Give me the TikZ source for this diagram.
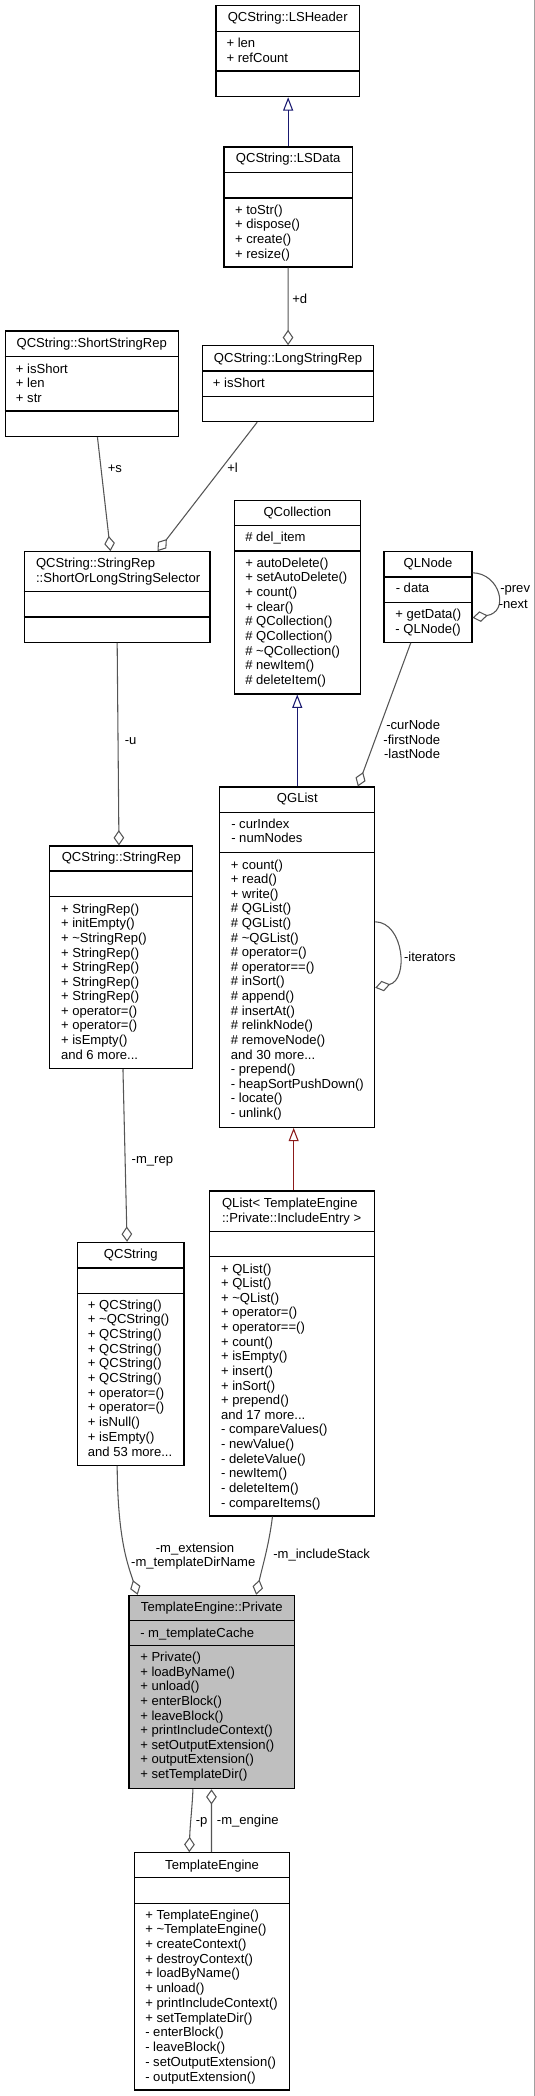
\documentclass[tikz,border=0pt]{standalone}
\usepackage{fontspec}
\setmainfont{Liberation Sans}
\usetikzlibrary{arrows.meta,fit,calc}
\definecolor{edgegrey}{HTML}{555555}
\definecolor{navyblue}{HTML}{191970}
\definecolor{fbrick}{HTML}{8B1A1A}
\definecolor{privfill}{HTML}{BFBFBF}
\definecolor{rborder}{HTML}{A0A0A0}
\tikzset{
  box/.style={draw=black, line width=0.8pt, inner sep=0pt},
  txt/.style={inner sep=0pt, font=\fontsize{9.8}{11}\selectfont},
  agg/.style={draw=edgegrey, line width=0.8pt, -{Diamond[open,length=11.5pt,width=8pt]}},
  inh/.style={line width=0.8pt, -{Triangle[open,length=10pt,width=7.5pt]}},
  lbl/.style={txt, anchor=base west},
}
\newcommand\umldots{...}
\newcommand\umldiv[2]{\draw[line width=0.8pt] (#1.west |- 0,#2) -- (#1.east |- 0,#2);}
\newcommand\umlmembers[5]{\foreach [count=\ii from 0] \mtext in {#5} {\node[txt,anchor=base west] (#1-\ii) at (#2,#3+4.3+\ii*#4) {\mtext};}}
\newcommand\umltitle[4]{\node[txt,anchor=base] (#1-title) at (#2,#3+4.3) {#4};}
\begin{document}
\begin{tikzpicture}[x=0.75pt,y=-0.75pt]
\useasboundingbox (0,0) rectangle (535,2096);
\draw[rborder, line width=1pt] (534.3,0) -- (534.3,2096);

% ---------- LSHeader
\node[box, fit={(216,5.7)(359.4,96.7)}] (lsheader) {};
\umldiv{lsheader}{31.7}\umldiv{lsheader}{71}
\umltitle{lsheader}{287.7}{17.3}{QCString::LSHeader}
\umlmembers{lsheader-a}{226.3}{42.7}{15}{+ len, + refCount}

% ---------- LSData
\node[box, fit={(224,147)(352.3,267)}] (lsdata) {};
\umldiv{lsdata}{172.3}\umldiv{lsdata}{198}
\umltitle{lsdata}{288.2}{158.3}{QCString::LSData}
\umlmembers{lsdata-m}{234.8}{209.7}{14.67}{+ toStr(), + dispose(), + create(), + resize()}

% ---------- ShortStringRep
\node[box, fit={(5.1,331)(178.5,436.7)}] (shortstr) {};
\umldiv{shortstr}{356.7}\umldiv{shortstr}{411}
\umltitle{shortstr}{91.8}{342.7}{QCString::ShortStringRep}
\umlmembers{shortstr-a}{15.7}{368.7}{14.5}{+ isShort, + len, + str}

% ---------- LongStringRep
\node[box, fit={(202.7,345.7)(373.4,421.7)}] (longstr) {};
\umldiv{longstr}{371}\umldiv{longstr}{396.7}
\umltitle{longstr}{288}{357.7}{QCString::LongStringRep}
\umlmembers{longstr-a}{212.6}{382.7}{14.6}{+ isShort}

% ---------- ShortOrLongStringSelector
\node[box, fit={(24.2,551.7)(210,642.3)}] (sols) {};
\umldiv{sols}{591.7}\umldiv{sols}{617}
\node[txt,anchor=base west] (sols-t1) at (35.8,567.6) {QCString::StringRep};
\node[txt,anchor=base west] (sols-t2) at (35.8,582.6) {::ShortOrLongStringSelector};

% ---------- QCollection
\node[box, fit={(234.5,500.7)(360.1,694)}] (qcoll) {};
\umldiv{qcoll}{525.7}\umldiv{qcoll}{551}
\umltitle{qcoll}{297.3}{512.3}{QCollection}
\umlmembers{qcoll-a}{245}{537.3}{14.7}{\# del\_item}
\umlmembers{qcoll-m}{245}{562.7}{14.7}{+ autoDelete(), + setAutoDelete(), + count(), + clear(), \# QCollection(), \# QCollection(), \# \textasciitilde QCollection(), \# newItem(), \# deleteItem()}

% ---------- QLNode
\node[box, fit={(384,551.7)(472,642.3)}] (qlnode) {};
\umldiv{qlnode}{577}\umldiv{qlnode}{602.7}
\umltitle{qlnode}{428}{563.3}{QLNode}
\umlmembers{qlnode-a}{395.5}{588.3}{14.4}{- data}
\umlmembers{qlnode-m}{395.2}{614.3}{14.4}{+ getData(), - QLNode()}

% ---------- QGList
\node[box, fit={(219.8,787)(374.7,1127.3)}] (qglist) {};
\umldiv{qglist}{812.3}\umldiv{qglist}{852.3}
\umltitle{qglist}{297.3}{798.3}{QGList}
\umlmembers{qglist-a}{231}{824.3}{14}{- curIndex, - numNodes}
\umlmembers{qglist-m}{230.7}{864.7}{14.62}{+ count(), + read(), + write(), \# QGList(), \# QGList(), \# \textasciitilde QGList(), \# operator=(), \# operator==(), \# inSort(), \# append(), \# insertAt(), \# relinkNode(), \# removeNode(), and 30 more\umldots, - prepend(), - heapSortPushDown(), - locate(), - unlink()}

% ---------- StringRep
\node[box, fit={(49.8,846)(192.8,1068.7)}] (strrep) {};
\umldiv{strrep}{871}\umldiv{strrep}{896.7}
\umltitle{strrep}{121.3}{857.3}{QCString::StringRep}
\umlmembers{strrep-m}{60.8}{909}{14.57}{+ StringRep(), + initEmpty(), + \textasciitilde StringRep(), + StringRep(), + StringRep(), + StringRep(), + StringRep(), + operator=(), + operator=(), + isEmpty(), and 6 more\umldots}

% ---------- QList
\node[box, fit={(209.9,1191)(374.4,1516)}] (qlist) {};
\umldiv{qlist}{1231.3}\umldiv{qlist}{1256.7}
\node[txt,anchor=base west] (qlist-t1) at (221.8,1207) {QList< TemplateEngine};
\node[txt,anchor=base west] (qlist-t2) at (221.8,1222) {::Private::IncludeEntry >};
\umlmembers{qlist-m}{220.8}{1268.7}{14.625}{+ QList(), + QList(), + \textasciitilde QList(), + operator=(), + operator==(), + count(), + isEmpty(), + insert(), + inSort(), + prepend(), and 17 more\umldots, - compareValues(), - newValue(), - deleteValue(), - newItem(), - deleteItem(), - compareItems()}

% ---------- QCString
\node[box, fit={(77.5,1242.3)(184,1465.3)}] (qcstring) {};
\umldiv{qcstring}{1268}\umldiv{qcstring}{1293.3}
\umltitle{qcstring}{130.8}{1254.3}{QCString}
\umlmembers{qcstring-m}{87.7}{1304.7}{14.7}{+ QCString(), + \textasciitilde QCString(), + QCString(), + QCString(), + QCString(), + QCString(), + operator=(), + operator=(), + isNull(), + isEmpty(), and 53 more\umldots}

% ---------- TemplateEngine::Private
\node[box, fill=privfill, fit={(129,1595.3)(294.5,1788.7)}] (private) {};
\umldiv{private}{1620.3}\umldiv{private}{1645.7}
\umltitle{private}{211.8}{1606.7}{TemplateEngine::Private}
\umlmembers{private-a}{140}{1632.7}{14.6}{- m\_templateCache}
\umlmembers{private-m}{140}{1657.3}{14.625}{+ Private(), + loadByName(), + unload(), + enterBlock(), + leaveBlock(), + printIncludeContext(), + setOutputExtension(), + outputExtension(), + setTemplateDir()}

% ---------- TemplateEngine
\node[box, fit={(134.8,1852.7)(289.4,2090)}] (tengine) {};
\umldiv{tengine}{1877.7}\umldiv{tengine}{1903.3}
\umltitle{tengine}{212.1}{1864.7}{TemplateEngine}
\umlmembers{tengine-m}{145}{1914.7}{14.73}{+ TemplateEngine(), + \textasciitilde TemplateEngine(), + createContext(), + destroyContext(), + loadByName(), + unload(), + printIncludeContext(), + setTemplateDir(), - enterBlock(), - leaveBlock(), - setOutputExtension(), - outputExtension()}

% ---------- connectors
\draw[inh, draw=navyblue] (lsdata.north) -- (lsdata.north |- lsheader.south);
\draw[agg] (lsdata.south) -- (longstr.north);
\node[lbl] (lbl-d) at (292,303.3) {+d};

\draw[agg] ($(shortstr.south west)+(92.9,0)$) -- ($(sols.north west)+(86.8,0)$);
\node[lbl] (lbl-s) at (107.5,472) {+s};
\draw[agg] ($(longstr.south west)+(55,0)$) -- ($(sols.north west)+(133.8,0)$);
\node[lbl] (lbl-l) at (227,472) {+l};

\draw[agg] ($(sols.south west)+(93.5,0)$) -- ($(strrep.north west)+(69.7,0)$);
\node[lbl] (lbl-u) at (124.6,744.3) {-u};

\draw[inh, draw=navyblue] (qglist.north) -- (qglist.north |- qcoll.south);

\draw[agg] ($(qlnode.south west)+(27.3,0)$) -- ($(qglist.north west)+(138.6,0)$);
\node[txt,anchor=base east] (lbl-cur) at (440.3,729.3) {-curNode};
\node[txt,anchor=base east] (lbl-first) at (440.3,744) {-firstNode};
\node[txt,anchor=base east] (lbl-last) at (440.3,758.6) {-lastNode};

\draw[agg] ($(qlnode.north east)+(0,21.6)$) .. controls (500,573.3) and (510,612) .. ($(qlnode.north east)+(0,66.6)$);
\node[lbl] (lbl-prev) at (500,592.6) {-prev};
\node[lbl] (lbl-next) at (498.5,608) {-next};

\draw[agg] ($(qglist.north east)+(0,135.3)$) .. controls (404,922.3) and (409,980) .. ($(qglist.north east)+(0,201.3)$);
\node[lbl] (lbl-it) at (403.8,961) {-iterators};

\draw[agg] ($(strrep.south west)+(73.7,0)$) -- ($(qcstring.north west)+(50.1,0)$);
\node[lbl] (lbl-rep) at (131.4,1163.3) {-m\_rep};

\coordinate (qlisttop) at ($(qlist.north west)+(84.3,0)$);
\draw[inh, draw=fbrick] (qlisttop) -- (qlisttop |- qglist.south);

\draw[agg] ($(qcstring.south west)+(40.2,0)$) .. controls (117.7,1540) and (128,1565) .. ($(private.north west)+(9.2,0)$);
\node[txt,anchor=base] (lbl-ext) at (195,1552) {-m\_extension};
\node[txt,anchor=base] (lbl-dir) at (193.3,1566.6) {-m\_templateDirName};

\draw[agg] ($(qlist.south west)+(63.1,0)$) .. controls (269,1545) and (262,1568) .. ($(private.north west)+(127.7,0)$);
\node[lbl] (lbl-inc) at (273,1558.6) {-m\_includeStack};

\draw[agg] ($(private.south west)+(64.5,0)$) .. controls (192,1810) and (190,1825) .. ($(tengine.north west)+(55,0)$);
\node[lbl] (lbl-p) at (195.6,1824.3) {-p};
\draw[agg] ($(tengine.north west)+(77.2,0)$) -- ($(private.south west)+(83,0)$);
\node[lbl] (lbl-eng) at (216.7,1824.3) {-m\_engine};
\end{tikzpicture}
\end{document}
